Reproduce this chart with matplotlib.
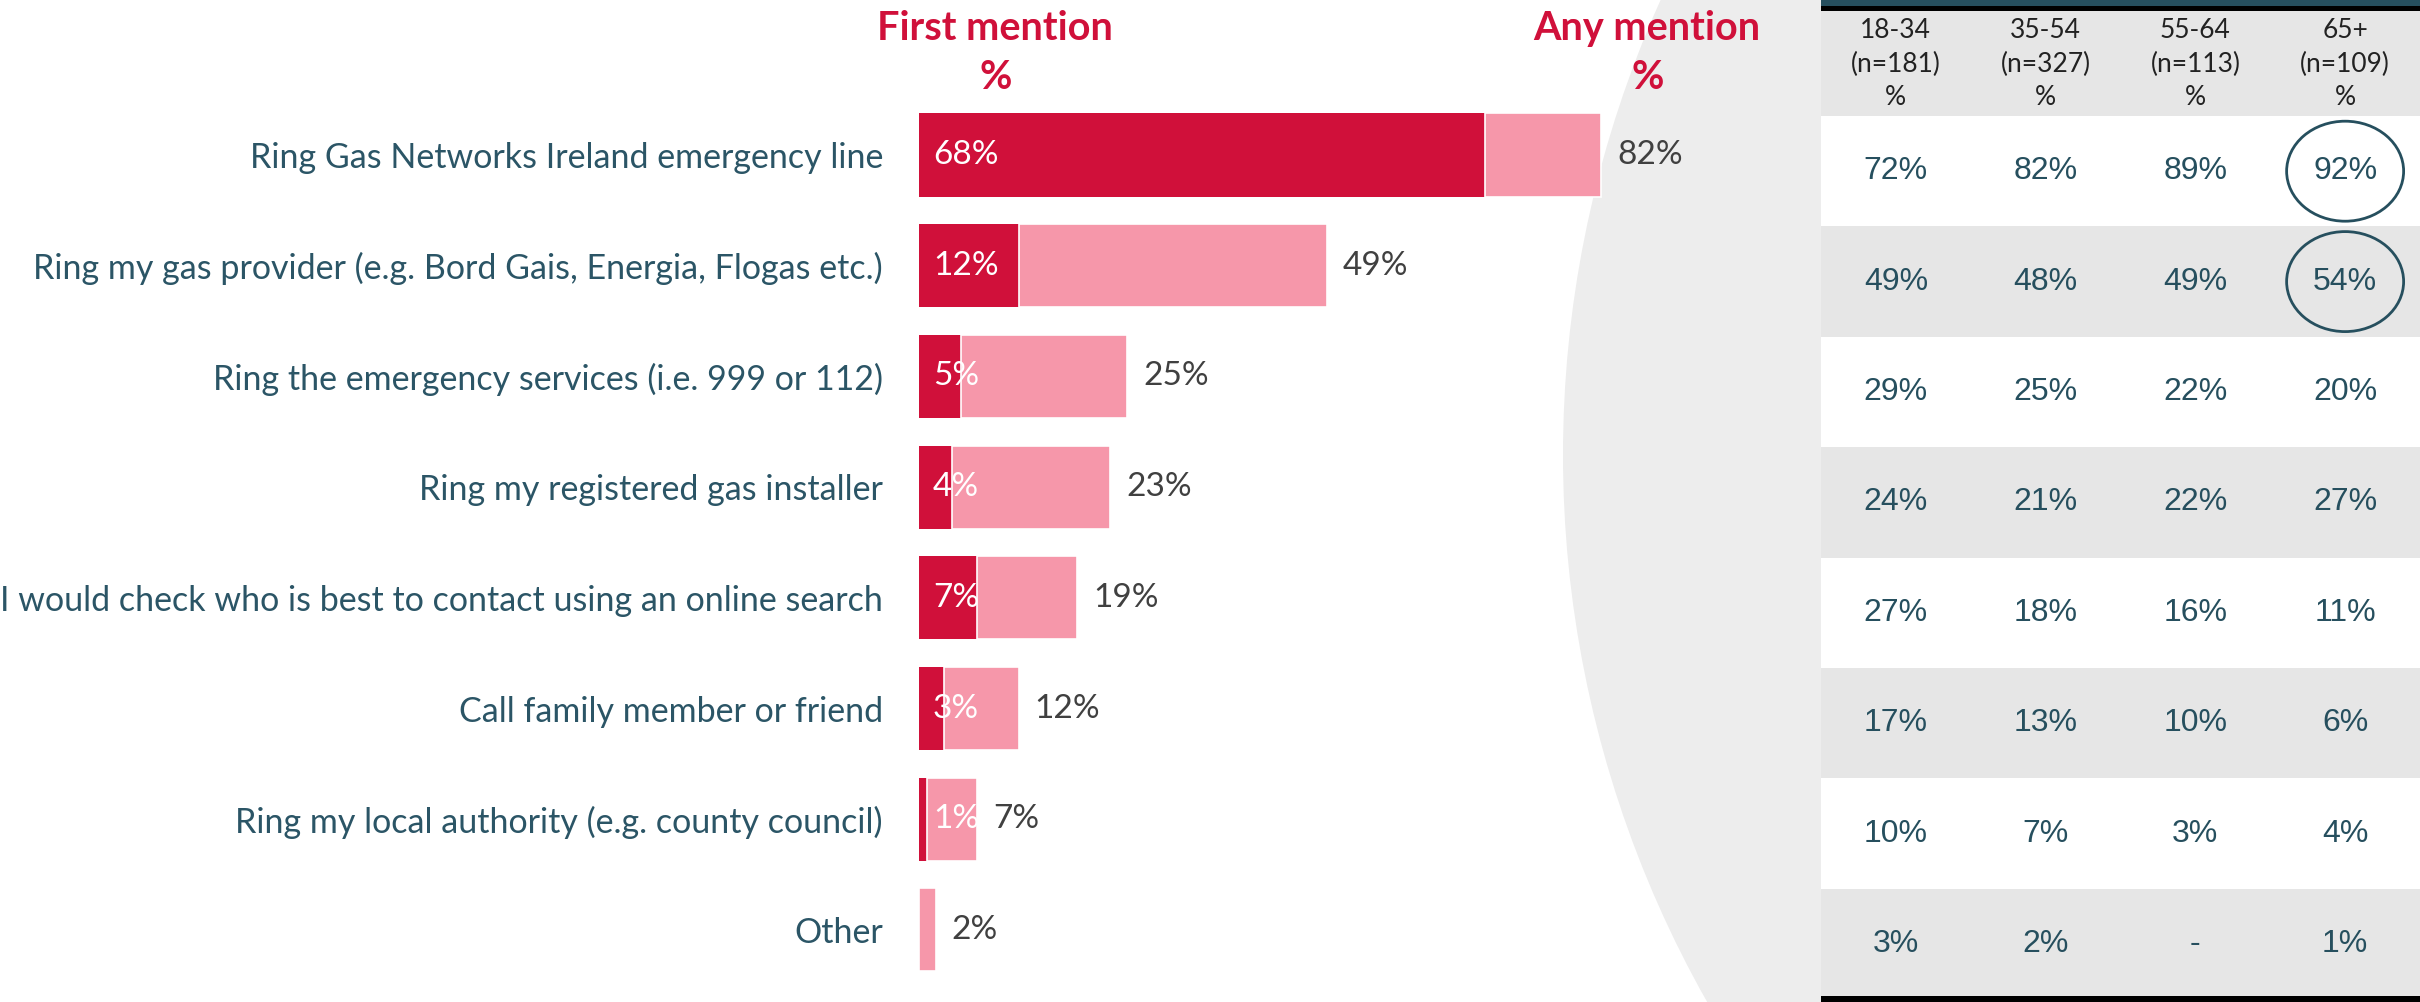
import numpy as np
import matplotlib.pyplot as plt
from matplotlib.patches import Circle, Ellipse, Rectangle

plt.rcParams['font.family'] = ['Lato', 'DejaVu Sans']

categories = ["Ring Gas Networks Ireland emergency line",
              "Ring my gas provider (e.g. Bord Gais, Energia, Flogas etc.)",
              "Ring the emergency services (i.e. 999 or 112)",
              "Ring my registered gas installer",
              "I would check who is best to contact using an online search",
              "Call family member or friend",
              "Ring my local authority (e.g. county council)",
              "Other"]
first_mention = [68, 12, 5, 4, 7, 3, 1, 0]
any_mention = [82, 49, 25, 23, 19, 12, 7, 2]

age_groups = ["18-34", "35-54", "55-64", "65+"]
age_bases = ["(n=181)", "(n=327)", "(n=113)", "(n=109)"]
age_table = [["72%", "82%", "89%", "92%"],
             ["49%", "48%", "49%", "54%"],
             ["29%", "25%", "22%", "20%"],
             ["24%", "21%", "22%", "27%"],
             ["27%", "18%", "16%", "11%"],
             ["17%", "13%", "10%", "6%"],
             ["10%", "7%", "3%", "4%"],
             ["3%", "2%", "-", "1%"]]
circled = [(0, 3), (1, 3)]   # (row, col) cells with a ring round them

DARK = "#D0103A"
LIGHT = "#F697AA"
TEAL = "#264F5E"
GREY_BG = "#EDEDED"

W, H = 2420, 1002
fig = plt.figure(figsize=(W/100, H/100), dpi=100)

# background: pixel coordinates, big grey arc on the right
bg = fig.add_axes([0, 0, 1, 1])
bg.set_xlim(0, W)
bg.set_ylim(H, 0)
bg.axis('off')
bg.add_patch(Circle((2673, 455), 1110, color=GREY_BG, lw=0))

for txt, xc in [("First mention", 995), ("Any mention", 1647)]:
    bg.text(xc, 28, txt, ha='center', va='center', fontsize=28.5,
            fontweight='bold', color=DARK)
    bg.text(xc + 1, 77, "%", ha='center', va='center', fontsize=28.5,
            fontweight='bold', color=DARK)

# bar chart
px_per_pct = 8.32
x0, x1 = 919, 1819
row_h = 110.7
top = 155 - row_h/2
bottom = 155 + row_h*7.5
ax = fig.add_axes([x0/W, 1 - bottom/H, (x1 - x0)/W, (bottom - top)/H])
ax.set_facecolor('none')
ax.set_xlim(0, (x1 - x0)/px_per_pct)
ax.set_ylim(len(categories) - 0.5, -0.5)
for s in ax.spines.values():
    s.set_visible(False)

y = np.arange(len(categories))
first = np.array(first_mention)
anym = np.array(any_mention)
ax.barh(y, first, height=0.75, color=DARK, lw=0)
ax.barh(y, anym - first, left=first, height=0.75, color=LIGHT,
        edgecolor='white', lw=1.2)

for i in range(len(categories)):
    if first[i] > 0:
        ax.annotate(f"{first[i]}%", xy=(0, i), xytext=(10, 0),
                    textcoords='offset points', ha='left', va='center',
                    fontsize=24, color='white')
    ax.annotate(f"{anym[i]}%", xy=(anym[i], i), xytext=(11.5, 0),
                textcoords='offset points', ha='left', va='center',
                fontsize=24, color='#404040')

ax.set_xticks([])
ax.set_yticks(y, categories)
ax.tick_params(axis='y', length=0, pad=26, labelsize=24.5, labelcolor="#2B5566")

# table on the right, y in row units, row 0 starts at 116 px
tx0 = 1821
row_t = 110.4
t_top = 116
tab = fig.add_axes([tx0/W, 0, (W - tx0)/W, 1])
tab.set_xlim(0, 4)
tab.set_ylim((H - t_top)/row_t, -t_top/row_t)
tab.axis('off')

ytop = -t_top/row_t
tab.add_patch(Rectangle((0, ytop), 4, 6/row_t, color=TEAL, lw=0))
tab.add_patch(Rectangle((0, ytop + 6/row_t), 4, 5/row_t, color='black', lw=0))
tab.add_patch(Rectangle((0, ytop + 11/row_t), 4, -ytop - 11/row_t,
                        color="#E6E6E6", lw=0))
for r in range(len(age_table)):
    fc = 'white' if r % 2 == 0 else "#E6E6E6"
    tab.add_patch(Rectangle((0, r), 4, 1, color=fc, lw=0))
tab.add_patch(Rectangle((0, len(age_table) - 3/row_t), 4, 10/row_t,
                        color='black', lw=0))

for c in range(4):
    tab.text(c + 0.5, ytop + 64/row_t,
             f"{age_groups[c]}\n{age_bases[c]}\n%", ha='center', va='center',
             fontsize=19, color='#222222', linespacing=1.4)
    for r in range(len(age_table)):
        tab.text(c + 0.5, r + 0.5, age_table[r][c], ha='center', va='center',
                 fontsize=23, color=TEAL,
                 family=['Liberation Sans Narrow', 'Liberation Sans'])

for r, c in circled:
    tab.add_patch(Ellipse((c + 0.5, r + 0.5), 117/149.75, 100/row_t,
                          fill=False, edgecolor=TEAL, lw=2))

fig.savefig("out.png", dpi=100)
